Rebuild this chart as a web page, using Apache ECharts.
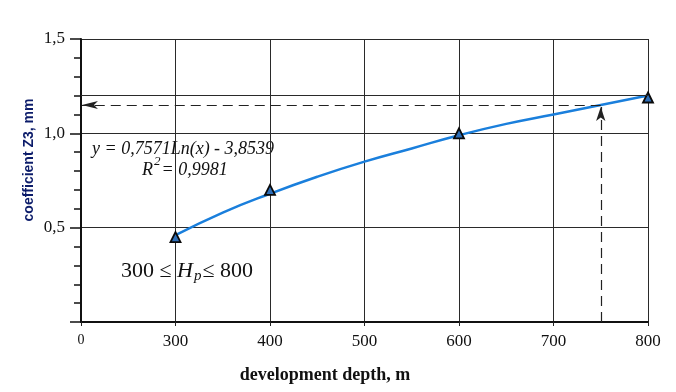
<!DOCTYPE html>
<html><head><meta charset="utf-8">
<script src="https://cdn.jsdelivr.net/npm/echarts@6/dist/echarts.min.js"></script>
<style>html,body{margin:0;padding:0;background:#fff}#c{width:676px;height:392px}</style>
</head><body><div id="c"></div>
<script>
// Measured points (triangles)
const depths = [300, 400, 600, 800];
const coeffs = [0.45, 0.70, 1.00, 1.19];
// Fitted curve
const curveX = [300, 350, 400, 450, 500, 550, 600, 650, 700, 750, 800];
const curveY = [0.46, 0.58, 0.68, 0.77, 0.85, 0.92, 0.99, 1.05, 1.10, 1.15, 1.20];
// Axis ticks (the first x tick stands for a broken axis and is labelled "0")
const xTicks = [200, 300, 400, 500, 600, 700, 800];
const xTickLabels = ['0', '300', '400', '500', '600', '700', '800'];
const yTicks = [0, 0.5, 1.0, 1.5];
const yTickLabels = ['', '0,5', '1,0', '1,5'];
// Reference lines
const refLineY = 1.2;
const readX = 750;
const readY = 1.15;

const chart = echarts.init(document.getElementById('c'));
const serif = '"Liberation Serif", "DejaVu Serif", serif';
chart.setOption({
  backgroundColor: '#fff',
  animation: false,
  grid: { left: 81, right: 28, top: 39, bottom: 70 },
  xAxis: {
    type: 'value', min: xTicks[0], max: xTicks[xTicks.length - 1], interval: 100,
    axisLine: { show: true, lineStyle: { color: '#111', width: 2 } },
    axisTick: { show: true, length: 4, lineStyle: { color: '#222' } },
    axisLabel: {
      margin: 11, color: '#111', fontFamily: serif, fontSize: 17,
      formatter: v => {
        const i = xTicks.indexOf(v);
        if (i < 0) return '';
        return i === 0 ? '{z|' + xTickLabels[i] + '}' : xTickLabels[i];
      },
      rich: { z: { fontFamily: serif, fontSize: 14, color: '#111', padding: [0, 0, 3, 0] } }
    },
    splitLine: { show: true, lineStyle: { color: '#2a2a2a', width: 1 } }
  },
  yAxis: {
    type: 'value', min: 0, max: 1.5, interval: 0.5,
    axisLine: { show: true, lineStyle: { color: '#111', width: 2 } },
    axisTick: { show: true, length: 11, lineStyle: { color: '#111', width: 1.5 } },
    minorTick: { show: true, splitNumber: 5, length: 7, lineStyle: { color: '#111', width: 1.5 } },
    axisLabel: {
      margin: 16, color: '#111', fontFamily: serif, fontSize: 17,
      formatter: v => { const i = yTicks.findIndex(t => Math.abs(t - v) < 1e-9); return i >= 0 ? yTickLabels[i] : ''; }
    },
    splitLine: { show: true, lineStyle: { color: '#2a2a2a', width: 1 } }
  },
  series: [
    {
      type: 'line', data: curveX.map((x, i) => [x, curveY[i]]), smooth: true, showSymbol: false,
      lineStyle: { color: '#1a7fdc', width: 2.5 }, silent: true, z: 3,
      markLine: {
        silent: true, animation: false,
        label: { show: false },
        data: [
          [{ coord: [xTicks[0], refLineY], symbol: 'none', lineStyle: { type: 'solid', color: '#2a2a2a', width: 1 } },
           { coord: [xTicks[xTicks.length - 1], refLineY], symbol: 'none' }],
          [{ coord: [readX, 0], symbol: 'none', lineStyle: { type: [10, 6], color: '#222', width: 1.2 } },
           { coord: [readX, readY - 0.01], symbol: 'arrow', symbolSize: [7, 14] }],
          [{ coord: [readX, readY], symbol: 'none', lineStyle: { type: [10, 6], color: '#222', width: 1.2 } },
           { coord: [xTicks[0] + 1, readY], symbol: 'arrow', symbolSize: [6, 16] }]
        ]
      }
    },
    {
      type: 'scatter', data: depths.map((x, i) => [x, coeffs[i]]), symbol: 'triangle', symbolSize: 10,
      itemStyle: { color: '#2f6fb8', borderColor: '#0a0a0a', borderWidth: 1.8, opacity: 1 }, z: 4
    }
  ],
  graphic: [
    { type: 'text', left: 92, top: 140, style: { text: 'y = 0,7571Ln(x) - 3,8539', font: 'italic 18px ' + serif, fill: '#111' } },
    { type: 'text', left: 142, top: 155, style: {
      text: '{r|R}{s|2}{r|= 0,9981}', fill: '#111',
      rich: { r: { font: 'italic 18px ' + serif, fill: '#111', verticalAlign: 'bottom', lineHeight: 24 },
              s: { font: 'italic 13px ' + serif, fill: '#111', verticalAlign: 'top', lineHeight: 24, padding: [0, 1, 9, 1] } } } },
    { type: 'text', left: 121, top: 259, style: {
      text: '{n|300 ≤ }{h|H}{p|p}{n|≤ 800}', fill: '#111',
      rich: { n: { font: '22px ' + serif, fill: '#111', lineHeight: 28 },
              h: { font: 'italic 22px ' + serif, fill: '#111', lineHeight: 28 },
              p: { font: 'italic 15px ' + serif, fill: '#111', lineHeight: 28, padding: [10, 1, 0, 1] } } } },
    { type: 'text', x: 29, y: 160, rotation: Math.PI / 2, style: {
      text: 'coefficient Z3, mm', font: 'bold 14px "Liberation Sans", Arial, sans-serif', fill: '#0c1c6a',
      align: 'center', verticalAlign: 'middle' } },
    { type: 'text', x: 325, y: 375, style: {
      text: 'development depth, m', font: 'bold 18px ' + serif, fill: '#111', align: 'center', verticalAlign: 'middle' } }
  ]
});
</script></body></html>
